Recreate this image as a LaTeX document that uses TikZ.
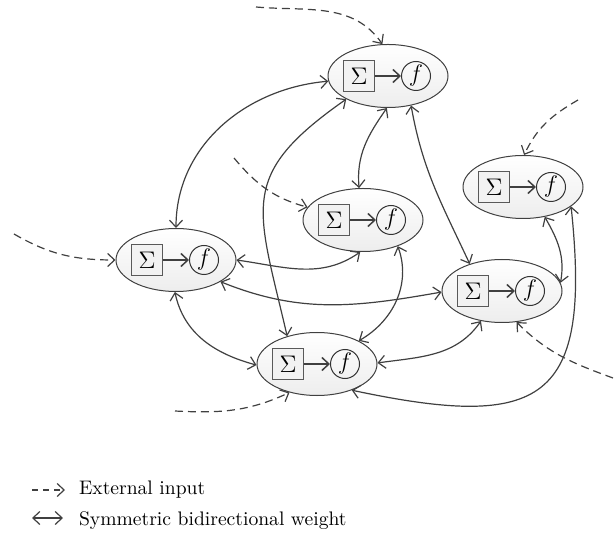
\documentclass[tikz,border=0pt]{standalone}
\usetikzlibrary{shapes.geometric,arrows.meta}

\begin{document}
\begin{tikzpicture}[
  x=0.5pt, y=0.5pt,
  >={Straight Barb[length=3.5pt,width=6.5pt]},
  neuron/.style={ellipse, draw=black!75, line width=0.5pt, top color=white, bottom color=black!7, minimum width=60pt, minimum height=31.5pt, inner sep=0pt},
  sumbox/.style={rectangle, draw=black!65, line width=0.7pt, fill=black!5, minimum size=15.5pt, inner sep=0pt, font=\fontsize{13}{14}\selectfont},
  actfn/.style={circle, draw=black!80, line width=0.5pt, minimum size=14.5pt, inner sep=0pt, font=\fontsize{11.5}{13}\selectfont},
  weight/.style={<->, draw=black!75, line width=0.6pt},
  extin/.style={->, draw=black!75, line width=0.6pt, dash pattern=on 4pt off 2.5pt},
  font=\fontsize{9.8}{11}\selectfont
]
\useasboundingbox (0,0) rectangle (614,-533);

% neurons
\node[neuron] (ntop) at (388,-76) {};
\node[sumbox] (ntop-s) at ([xshift=-14.5pt]ntop.center) {$\Sigma$};
\node[actfn] (ntop-f) at ([xshift=14pt]ntop.center) {$f$};
\draw[->, line width=0.75pt, black!75] (ntop-s) -- (ntop-f);

\node[neuron] (nmid) at (363,-220) {};
\node[sumbox] (nmid-s) at ([xshift=-14.5pt]nmid.center) {$\Sigma$};
\node[actfn] (nmid-f) at ([xshift=14pt]nmid.center) {$f$};
\draw[->, line width=0.75pt, black!75] (nmid-s) -- (nmid-f);

\node[neuron] (nleft) at (176,-260) {};
\node[sumbox] (nleft-s) at ([xshift=-14.5pt]nleft.center) {$\Sigma$};
\node[actfn] (nleft-f) at ([xshift=14pt]nleft.center) {$f$};
\draw[->, line width=0.75pt, black!75] (nleft-s) -- (nleft-f);

\node[neuron] (nur) at (523,-187) {};
\node[sumbox] (nur-s) at ([xshift=-14.5pt]nur.center) {$\Sigma$};
\node[actfn] (nur-f) at ([xshift=14pt]nur.center) {$f$};
\draw[->, line width=0.75pt, black!75] (nur-s) -- (nur-f);

\node[neuron] (nlr) at (502,-291) {};
\node[sumbox] (nlr-s) at ([xshift=-14.5pt]nlr.center) {$\Sigma$};
\node[actfn] (nlr-f) at ([xshift=14pt]nlr.center) {$f$};
\draw[->, line width=0.75pt, black!75] (nlr-s) -- (nlr-f);

\node[neuron] (nbot) at (317,-364) {};
\node[sumbox] (nbot-s) at ([xshift=-14.5pt]nbot.center) {$\Sigma$};
\node[actfn] (nbot-f) at ([xshift=14pt]nbot.center) {$f$};
\draw[->, line width=0.75pt, black!75] (nbot-s) -- (nbot-f);

% weights
\draw[weight] (ntop.185) to[out=185, in=90] (nleft.90);
\draw[weight] (ntop.209) to[out=215, in=103, looseness=1.4] (nbot.137);
\draw[weight] (ntop.268) to[out=235, in=95] (nmid.97);
\draw[weight] (ntop.308) to[out=-80, in=115] (nlr.140);
\draw[weight] (nur.338) to[out=-84, in=-12, looseness=1.75] (nbot.323);
\draw[weight] (nur.306) to[out=-60, in=80] (nlr.8);
\draw[weight] (nmid.323) to[out=-70, in=30] (nbot.29);
\draw[weight] (nleft.0) to[out=-8, in=215] (nmid.265);
\draw[weight] (nleft.334) to[out=-22, in=190] (nlr.181);
\draw[weight] (nleft.268) to[out=-78, in=165] (nbot.181);
\draw[weight] (nbot.1) to[out=8, in=235] (nlr.235);

% external inputs
\coordinate (in-top) at (256,-7);
\coordinate (in-ur) at (578,-100);
\coordinate (in-mid) at (234,-158);
\coordinate (in-left) at (14,-234);
\coordinate (in-bot) at (175,-411);
\coordinate (in-lr) at (613,-378);
\draw[extin] (in-top) to[out=-5, in=125] (ntop.100);
\draw[extin] (in-ur) to[out=210, in=65] (nur.88);
\draw[extin] (in-mid) to[out=-50, in=165] (nmid.167);
\draw[extin] (in-left) to[out=-30, in=180] (nleft.180);
\draw[extin] (in-bot) to[out=-3, in=205] (nbot.226);
\draw[extin] (in-lr) to[out=160, in=-45] (nlr.295);

% legend
\coordinate (leg-ext-a) at (32,-490);
\coordinate (leg-ext-b) at (65,-490);
\coordinate (leg-w-a) at (32,-518);
\coordinate (leg-w-b) at (63,-518);
\draw[extin, dash pattern=on 3pt off 2.5pt] (leg-ext-a) -- (leg-ext-b);
\draw[weight] (leg-w-a) -- (leg-w-b);
\node[anchor=west] (leg-ext) at (72,-490) {External input};
\node[anchor=west] (leg-w) at (72,-521) {Symmetric bidirectional weight};
\end{tikzpicture}
\end{document}
